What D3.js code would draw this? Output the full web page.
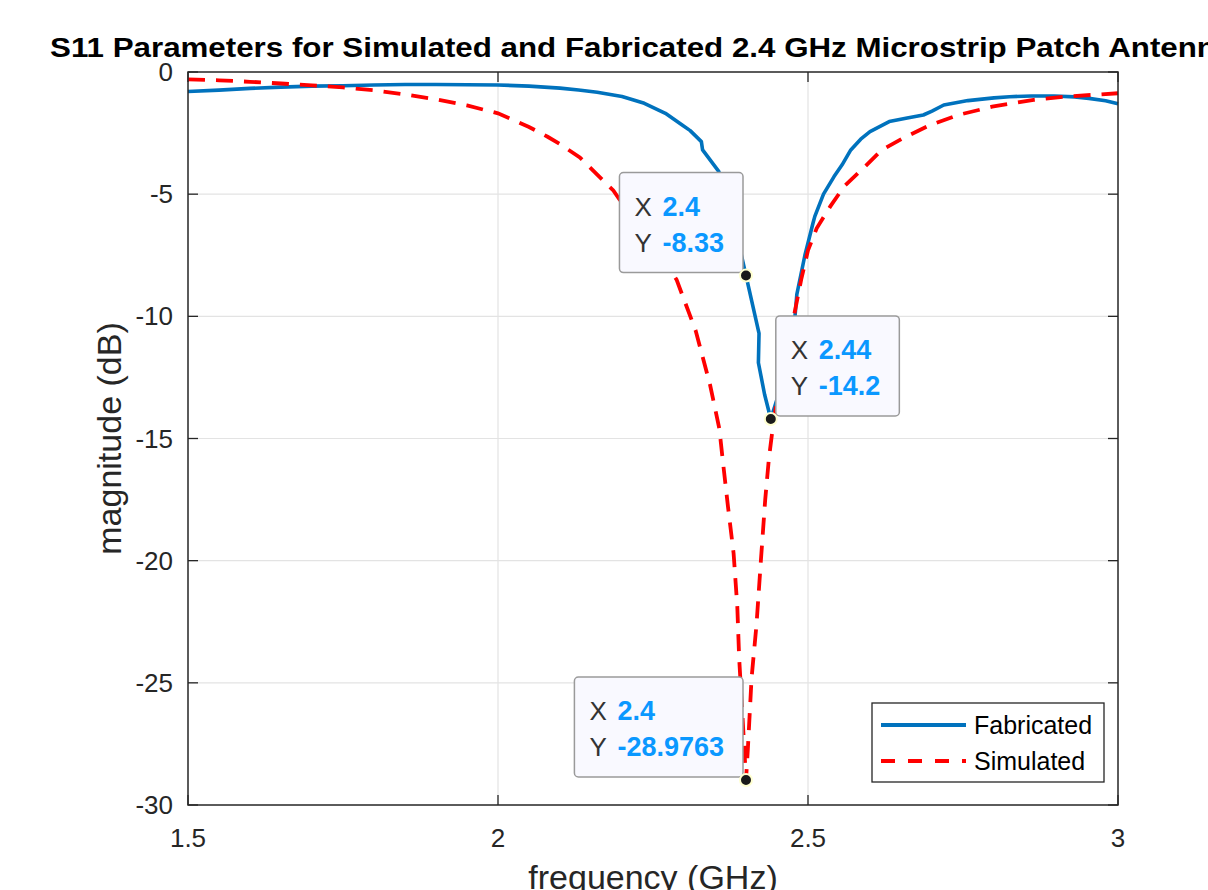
<!DOCTYPE html>
<html><head><meta charset="utf-8">
<script src="https://cdn.jsdelivr.net/npm/d3@7"></script>
<style>html,body{margin:0;padding:0;background:#fff;overflow:hidden}</style>
</head><body><svg id="c" width="1208" height="890"></svg>
<script>
const titleText = "S11 Parameters for Simulated and Fabricated 2.4 GHz Microstrip Patch Antenna";
const xLabel = "frequency (GHz)";
const yLabel = "magnitude (dB)";
const seriesNames = ["Fabricated", "Simulated"];
const xTicks = [1.5, 2, 2.5, 3];
const yTicks = [0, -5, -10, -15, -20, -25, -30];

const fabFreq = [1.5,1.55,1.6,1.65,1.7,1.75,1.8,1.85,1.9,1.95,2.0,2.05,2.1,2.13,2.16,2.2,2.236,2.27,2.297,2.31,2.328,2.33,2.356,2.375,2.39,2.4,2.421,2.42,2.43,2.44,2.45,2.46,2.47,2.477,2.479,2.482,2.495,2.508,2.511,2.525,2.542,2.555,2.569,2.585,2.6,2.631,2.66,2.686,2.7,2.719,2.758,2.8,2.825,2.86,2.897,2.93,2.953,2.98,3.0];
const fabMag  = [-0.80,-0.74,-0.67,-0.62,-0.58,-0.56,-0.53,-0.51,-0.51,-0.52,-0.53,-0.58,-0.66,-0.74,-0.83,-1.0,-1.28,-1.69,-2.17,-2.40,-2.85,-3.19,-4.07,-5.5,-7.2,-8.33,-10.7,-11.9,-13.2,-14.2,-13.4,-12.3,-11.0,-10.2,-10.0,-9.1,-7.5,-6.19,-5.91,-5.0,-4.28,-3.8,-3.19,-2.75,-2.44,-2.03,-1.88,-1.76,-1.6,-1.35,-1.17,-1.06,-1.01,-0.98,-0.98,-1.02,-1.08,-1.18,-1.3];

const simFreq = [1.5,1.55,1.6,1.65,1.7,1.75,1.8,1.85,1.9,1.95,2.0,2.05,2.08,2.1,2.132,2.16,2.186,2.2,2.22,2.25,2.27,2.288,2.319,2.342,2.357,2.363,2.371,2.380,2.386,2.389,2.394,2.399,2.4,2.403,2.409,2.417,2.424,2.431,2.437,2.443,2.455,2.466,2.478,2.489,2.5,2.514,2.536,2.558,2.592,2.619,2.653,2.697,2.742,2.797,2.864,2.919,3.0];
const simMag  = [-0.30,-0.34,-0.40,-0.47,-0.55,-0.63,-0.75,-0.92,-1.12,-1.37,-1.69,-2.25,-2.65,-2.95,-3.5,-4.2,-4.85,-5.37,-6.0,-7.0,-7.8,-8.5,-10.6,-12.8,-14.6,-16.0,-17.8,-19.7,-21.9,-24.0,-26.2,-28.5,-28.9763,-27.7,-24.8,-22.6,-20.0,-17.5,-15.8,-14.6,-12.5,-11.0,-9.9,-8.5,-7.3,-6.4,-5.5,-4.69,-3.87,-3.19,-2.71,-2.17,-1.76,-1.42,-1.14,-1.0,-0.87];

const tipX = [2.4, 2.44, 2.4];
const tipY = [-8.33, -14.2, -28.9763];
const tipXText = ["2.4", "2.44", "2.4"];
const tipYText = ["-8.33", "-14.2", "-28.9763"];

const FONT = "'Liberation Sans', Arial, Helvetica, sans-serif";
const svg = d3.select("#c");
const L = 188, R = 1118, T = 72, B = 805;
const x = d3.scaleLinear().domain([1.5, 3]).range([L, R]);
const y = d3.scaleLinear().domain([-30, 0]).range([B, T]);
const AX = "#262626";

// grid
svg.append("g").selectAll("line").data(xTicks.filter(d => d > 1.5 && d < 3)).join("line")
  .attr("x1", d => x(d)).attr("x2", d => x(d)).attr("y1", T).attr("y2", B)
  .attr("stroke", "#e3e3e3").attr("stroke-width", 1.2);
svg.append("g").selectAll("line").data(yTicks.filter(d => d < 0 && d > -30)).join("line")
  .attr("y1", d => y(d)).attr("y2", d => y(d)).attr("x1", L).attr("x2", R)
  .attr("stroke", "#e3e3e3").attr("stroke-width", 1.2);

// ticks (inward, all four sides)
const tl = 10;
const tg = svg.append("g").attr("stroke", AX).attr("stroke-width", 1.3);
xTicks.forEach(d => {
  tg.append("line").attr("x1", x(d)).attr("x2", x(d)).attr("y1", B).attr("y2", B - tl);
  tg.append("line").attr("x1", x(d)).attr("x2", x(d)).attr("y1", T).attr("y2", T + tl);
});
yTicks.forEach(d => {
  tg.append("line").attr("y1", y(d)).attr("y2", y(d)).attr("x1", L).attr("x2", L + tl);
  tg.append("line").attr("y1", y(d)).attr("y2", y(d)).attr("x1", R).attr("x2", R - tl);
});

// tick labels
svg.append("g").selectAll("text").data(xTicks).join("text")
  .attr("x", d => x(d)).attr("y", B + 42).attr("text-anchor", "middle")
  .attr("font-family", FONT).attr("font-size", 26).attr("fill", AX).text(d => d3.format("")(d));
svg.append("g").selectAll("text").data(yTicks).join("text")
  .attr("x", L - 15).attr("y", d => y(d) + 9).attr("text-anchor", "end")
  .attr("font-family", FONT).attr("font-size", 26).attr("fill", AX).text(d => d);

// lines
const line = d3.line().x(d => x(d[0])).y(d => y(d[1]));
const fab = fabFreq.map((f, i) => [f, fabMag[i]]);
const sim = simFreq.map((f, i) => [f, simMag[i]]);
svg.append("path").attr("d", line(fab)).attr("fill", "none").attr("stroke", "#0072BD")
  .attr("stroke-width", 3.6).attr("stroke-linejoin", "round");
svg.append("path").attr("d", line(sim)).attr("fill", "none").attr("stroke", "#FF0000")
  .attr("stroke-width", 3.8).attr("stroke-dasharray", "17,11");

// axes box
svg.append("rect").attr("x", L).attr("y", T).attr("width", R - L).attr("height", B - T)
  .attr("fill", "none").attr("stroke", AX).attr("stroke-width", 1.5);

// data tips
const tipSide = ["left", "right", "left"];
tipX.forEach((tx, i) => {
  const px = x(tx), py = y(tipY[i]);
  const g = svg.append("g");
  const rect = g.append("rect");
  const t1 = g.append("text").attr("font-family", FONT).attr("font-size", 26);
  t1.append("tspan").attr("fill", "#333").text("X");
  const v1 = t1.append("tspan").attr("fill", "#0A98FF").attr("font-weight", "bold").attr("font-size", 27).text(tipXText[i]);
  const t2 = g.append("text").attr("font-family", FONT).attr("font-size", 26);
  t2.append("tspan").attr("fill", "#333").text("Y");
  const v2 = t2.append("tspan").attr("fill", "#0A98FF").attr("font-weight", "bold").attr("font-size", 27).text(tipYText[i]);
  const w = Math.max(v1.node().getComputedTextLength(), v2.node().getComputedTextLength());
  const bw = 43 + w + 19, bh = 100;
  const bx = tipSide[i] === "left" ? px - 3 - bw : px + 5;
  const by = py - 3 - bh;
  rect.attr("x", bx).attr("y", by).attr("width", bw).attr("height", bh).attr("rx", 4)
    .attr("fill", "#F9F9FF").attr("stroke", "#9a9a9a").attr("stroke-width", 1.5);
  t1.attr("y", by + 43); t1.select("tspan").attr("x", bx + 15); v1.attr("x", bx + 43);
  t2.attr("y", by + 79); t2.select("tspan").attr("x", bx + 15); v2.attr("x", bx + 43);
  svg.append("circle").attr("cx", px).attr("cy", py).attr("r", 6)
    .attr("fill", "#1a1a1a").attr("stroke", "#FFFFD0").attr("stroke-width", 2);
});

// legend
const lg = svg.append("g");
lg.append("rect").attr("x", 872).attr("y", 703).attr("width", 232).attr("height", 79)
  .attr("fill", "#fff").attr("stroke", AX).attr("stroke-width", 1.3);
const legY = [725, 761];
const legStyle = [{c: "#0072BD", d: null}, {c: "#FF0000", d: "14,13"}];
seriesNames.forEach((n, i) => {
  const ln = lg.append("line").attr("x1", 881).attr("x2", 966).attr("y1", legY[i]).attr("y2", legY[i])
    .attr("stroke", legStyle[i].c).attr("stroke-width", 3.8);
  if (legStyle[i].d) ln.attr("stroke-dasharray", legStyle[i].d);
  lg.append("text").attr("x", 974).attr("y", legY[i] + 9).attr("font-family", FONT)
    .attr("font-size", 25).attr("fill", "#000").text(n);
});

// axis labels
svg.append("text").attr("x", (L + R) / 2).attr("y", 889).attr("text-anchor", "middle")
  .attr("font-family", FONT).attr("font-size", 34).attr("fill", AX).text(xLabel);
svg.append("text").attr("transform", `translate(121,${(T + B) / 2}) rotate(-90)`)
  .attr("text-anchor", "middle").attr("font-family", FONT).attr("font-size", 34)
  .attr("fill", AX).text(yLabel);

// title
const tt = svg.append("text").attr("x", 50).attr("y", 57).attr("font-family", FONT)
  .attr("font-weight", "bold").attr("font-size", 27).attr("fill", "#000").text(titleText);
const full = tt.node().getComputedTextLength();
const sub = tt.node().getSubStringLength(0, titleText.length - 1);
const k = (1216 - 50) / sub;
tt.attr("textLength", full * k).attr("lengthAdjust", "spacingAndGlyphs");
</script>
</body></html>
